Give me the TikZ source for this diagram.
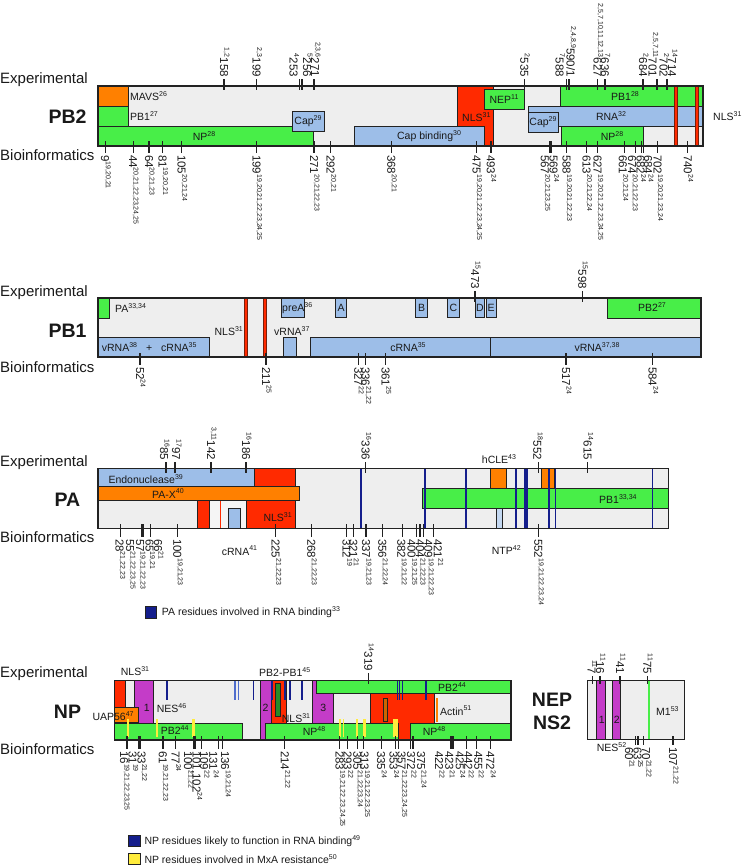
\documentclass[tikz,border=0pt]{standalone}
\usepackage{fontspec}
\setmainfont{Liberation Sans}
\usepackage{tikz}
\usetikzlibrary{positioning}
\usepackage{xcolor}

\definecolor{boxgrey}{RGB}{238,238,238}
\definecolor{outline}{RGB}{34,34,34}
\definecolor{domorange}{RGB}{255,128,0}
\definecolor{domgreen}{RGB}{72,238,72}
\definecolor{domred}{RGB}{255,42,0}
\definecolor{domblue}{RGB}{157,190,232}
\definecolor{dommagenta}{RGB}{196,60,200}
\definecolor{nlsdark}{RGB}{120,30,10}
\definecolor{rnanavy}{RGB}{20,30,140}
\definecolor{rnablue}{RGB}{80,110,205}
\definecolor{mxayellow}{RGB}{255,236,60}
\definecolor{darkgreen}{RGB}{40,140,40}

\newcommand{\refs}[1]{\raisebox{0.75ex}{\fontsize{7}{7}\selectfont #1}}

\begin{document}
\begin{tikzpicture}[
    x=1pt, y=-1pt,
    every node/.style={text=black!90},
    rowlabel/.style={anchor=west, inner sep=0pt, font=\fontsize{15}{15}\selectfont},
    protname/.style={inner sep=0pt, font=\fontsize{19.5}{20}\selectfont\bfseries},
    dom/.style={draw=outline, line width=0.9pt},
    boxline/.style={draw=outline, line width=1.3pt},
    domtext/.style={inner sep=0pt, font=\fontsize{10.5}{11}\selectfont},
    legtext/.style={domtext, anchor=west},
    resmark/.style={draw=outline, line width=1.2pt},
    toplab/.style={rotate=-90, anchor=base east, inner sep=1pt, font=\fontsize{11.5}{12}\selectfont},
    botlab/.style={rotate=-90, anchor=base west, inner sep=1pt, font=\fontsize{11.5}{12}\selectfont},
    nlsbar/.style={fill=domred, draw=nlsdark, line width=0.7pt},
    rnaline/.style={draw=rnanavy, line width=1.6pt},
]
    \fill[white] (0,0) rectangle (742,865);
    \useasboundingbox (0,0) rectangle (742,865);

    % PB2
    \node[rowlabel] (pbtwoExp) at (0,80) {Experimental};
    \node[protname] (pbtwoName) at (67.5,117) {PB2};
    \node[rowlabel] (pbtwoBio) at (0,155) {Bioinformatics};

    \fill[boxgrey] (98,86) rectangle (703,146);
    \draw[dom, fill=domorange] (98,86) rectangle (128,106);
    \draw[dom, fill=domgreen] (98,106) rectangle (128,126);
    \draw[dom, fill=domgreen] (98,126) rectangle (313,146);
    \draw[dom, fill=domblue] (292,111) rectangle (324,131);
    \draw[dom, fill=domred] (457,86) rectangle (493,146);
    \draw[dom, fill=domblue] (354,126) rectangle (484,146);
    \draw[dom, fill=domgreen] (484,89) rectangle (524,109);
    \draw[dom, fill=domgreen] (560,86) rectangle (703,106);
    \draw[dom, fill=domblue] (528,106) rectangle (703,126);
    \draw[dom, fill=domblue] (528,112) rectangle (558,132);
    \draw[dom, fill=domgreen] (561,126) rectangle (643,146);
    \draw[nlsbar] (674,86) rectangle (677,146);
    \draw[nlsbar] (695,86) rectangle (698,146);
    \draw[boxline] (98,86) rectangle (703,146);

    \node[domtext, anchor=west] (mavs) at (130,96) {MAVS\refs{26}};
    \node[domtext, anchor=west] (pbtwoPBa) at (130,116) {PB1\refs{27}};
    \node[domtext] (pbtwoNPa) at (204,136) {NP\refs{28}};
    \node[domtext] (pbtwoCapa) at (308,121) {Cap\refs{29}};
    \node[domtext] (capbind) at (429,136) {Cap binding\refs{30}};
    \node[domtext, anchor=west] (pbtwoNLSa) at (462,117) {NLS\refs{31}};
    \node[domtext] (pbtwoNEP) at (504,99) {NEP\refs{11}};
    \node[domtext] (pbtwoPBb) at (625,96) {PB1\refs{28}};
    \node[domtext] (pbtwoRNA) at (611,116) {RNA\refs{32}};
    \node[domtext] (pbtwoCapb) at (543,122) {Cap\refs{29}};
    \node[domtext] (pbtwoNPb) at (612,136) {NP\refs{28}};
    \node[domtext, anchor=west] (pbtwoNLSb) at (713,116) {NLS\refs{31}};

    \foreach \x/\n/\s/\d [count=\i] in {224/158/{1,2}/0, 256.6/199/{2,3}/0,
        299.6/253/4/-6, 302/256/5/5, 314/271/{2,3,6}/1, 524.4/535/2/0,
        566.6/588/7/-7, 568.5/{590/1}/{2,4,8,9}/2, 597.7/627/{2,5,7,10,11,12,13}/0,
        604.9/636/7/0, 643/684/2/0, 656.7/701/{2,5,7,11}/-4, 657.5/702/2/6,
        667/714/14/5} {
        \draw[resmark] (\x,79) -- (\x,90);
        \node[toplab] (pbtwoT\i) at ({\x-4+(\d)},78) {\refs{\s}\n};
    }
    \draw[resmark] (569.6,79) -- (569.6,90);

    \foreach \x/\n/\s/\d [count=\i] in {105.2/9/{19,20,21}/0, 133.1/44/{20,21,22,23,24,25}/0,
        149/64/{20,21,23}/0, 162.6/81/{19,20,21}/0, 181.7/105/{20,21,24}/0,
        256.6/199/{19,20,21,22,23,24,25}/0, 314/271/{20,21,22,23}/0, 330.7/292/{20,21}/0,
        391.3/368/{20,21}/0, 476.6/475/{19,20,21,22,23,24,25}/0, 490.9/493/24/0,
        549.9/567/{20,21,23,25}/-5, 551.5/569/24/2, 566.6/588/{19,20,21,22,23}/0,
        586.6/613/{20,21,22,24}/0, 597.7/627/{19,20,21,22,23,24,25}/0,
        624.8/661/{20,21,24}/-2, 635.2/674/{20,21,22,23}/-3, 641.6/682/24/-1,
        643.1/684/24/5, 657.5/702/{19,20,21,23,24}/0, 687.8/740/24/0} {
        \draw[resmark] (\x,141) -- (\x,153);
        \node[botlab] (pbtwoB\i) at ({\x-4+(\d)},154) {\n\refs{\s}};
    }

    % PB1
    \node[rowlabel] (pboneExp) at (0,292.7) {Experimental};
    \node[protname] (pboneName) at (67.5,331) {PB1};
    \node[rowlabel] (pboneBio) at (0,367) {Bioinformatics};

    \fill[boxgrey] (98,298) rectangle (701,357);
    \draw[dom, fill=domgreen] (98,298) rectangle (109,318);
    \draw[nlsbar] (244.3,298) rectangle (247.3,357);
    \draw[nlsbar] (263.3,298) rectangle (266.3,357);
    \draw[dom, fill=domblue] (281,298) rectangle (304,317);
    \draw[dom, fill=domblue] (335.3,298) rectangle (346.7,317);
    \draw[dom, fill=domblue] (415.7,298) rectangle (427.3,317);
    \draw[dom, fill=domblue] (447.3,298) rectangle (459.3,317);
    \draw[dom, fill=domblue] (475.3,298) rectangle (484.3,317);
    \draw[dom, fill=domblue] (486,298) rectangle (496,317);
    \draw[dom, fill=domgreen] (607.7,298) rectangle (701,318);
    \draw[dom, fill=domblue] (283.3,337) rectangle (296.3,357);
    \draw[dom, fill=domblue] (98,337) rectangle (209.3,357);
    \draw[dom, fill=domblue] (310.7,337) rectangle (490.3,357);
    \draw[dom, fill=domblue] (490.3,337) rectangle (701,357);
    \draw[boxline] (98,298) rectangle (701,357);

    \node[domtext, anchor=west] (pbonePA) at (115,308) {PA\refs{33,34}};
    \node[domtext, anchor=east] (pboneNLS) at (243,331) {NLS\refs{31}};
    \node[domtext, anchor=west] (preA) at (282,308) {preA\refs{36}};
    \node[domtext] (motifA) at (341,308) {A};
    \node[domtext] (motifB) at (421.5,308) {B};
    \node[domtext] (motifC) at (453.3,308) {C};
    \node[domtext] (motifD) at (479.8,308) {D};
    \node[domtext] (motifE) at (491,308) {E};
    \node[domtext] (pbonePB) at (652,307) {PB2\refs{27}};
    \node[domtext, anchor=west] (pbonevRNAa) at (274,331) {vRNA\refs{37}};
    \node[domtext, anchor=west] (pbonevc) at (101.7,347) {vRNA\refs{38}\hspace{9pt}+\hspace{9pt}cRNA\refs{35}};
    \node[domtext] (pbonecRNA) at (408,347) {cRNA\refs{35}};
    \node[domtext] (pbonevRNAb) at (597,347) {vRNA\refs{37,38}};

    \foreach \x/\n/\s/\d [count=\i] in {475/473/15/0, 582.3/598/15/0} {
        \draw[resmark] (\x,291) -- (\x,302);
        \node[toplab] (pboneT\i) at ({\x-4+(\d)},290) {\refs{\s}\n};
    }
    \foreach \x/\n/\s/\d [count=\i] in {140/52/24/0, 266/211/25/0, 358.3/327/22/0,
        365.7/336/{21,22}/0, 385.7/361/25/0, 566/517/24/0, 652.7/584/24/0} {
        \draw[resmark] (\x,353) -- (\x,365);
        \node[botlab] (pboneB\i) at ({\x-4+(\d)},366) {\n\refs{\s}};
    }

    % PA
    \node[rowlabel] (paExp) at (0,462.7) {Experimental};
    \node[protname] (paName) at (67.5,500) {PA};
    \node[rowlabel] (paBio) at (0,536.7) {Bioinformatics};

    \fill[boxgrey] (98,468.7) rectangle (668.3,528.3);
    \draw[dom, fill=domblue] (98,468.7) rectangle (254.3,486);
    \draw[dom, fill=domred] (254.3,468.7) rectangle (295.7,500);
    \draw[dom, fill=domred] (246.7,500) rectangle (295.7,528.3);
    \draw[dom, fill=domred] (197.3,500) rectangle (209.3,528.3);
    \draw[dom, fill=white!96!black] (209.3,500) rectangle (246.7,528.3);
    \fill[domred] (219.5,500) rectangle (221,528.3);
    \draw[dom, fill=domblue] (228,508.3) rectangle (240.7,528.3);
    \draw[dom, fill=domorange] (98,486) rectangle (299.7,500);
    \draw[dom, fill=domgreen] (422.3,488.3) rectangle (668.3,508.3);
    \draw[dom, fill=domorange] (490.7,468.7) rectangle (506.7,488.3);
    \draw[dom, fill=domorange] (541.7,468.7) rectangle (554.3,488.3);
    \draw[dom, fill=domblue!60] (496,508.3) rectangle (502.3,528.3);
    \foreach \x in {360.7, 425, 465.7, 515.7, 525, 526.7, 549, 555.3, 652.3}
        \draw[rnaline] (\x,468.7) -- (\x,528.3);
    \draw[boxline] (98,468.7) rectangle (668.3,528.3);

    \node[domtext, anchor=west] (endo) at (108.3,479.3) {Endonuclease\refs{39}};
    \node[domtext] (pax) at (168,493.5) {PA-X\refs{40}};
    \node[domtext, anchor=west] (paNLS) at (263.3,517.3) {NLS\refs{31}};
    \node[domtext, anchor=west] (paPB) at (599,499) {PB1\refs{33,34}};
    \node[domtext] (hcle) at (499,459.3) {hCLE\refs{43}};
    \node[domtext, anchor=west] (pacRNA) at (221.7,550.7) {cRNA\refs{41}};
    \node[domtext, anchor=west] (ntp) at (491.7,550) {NTP\refs{42}};

    \foreach \x/\n/\s/\d [count=\i] in {166/85/16/-2, 175/97/17/1, 211/142/{3,11}/0,
        246/186/16/0, 365.7/336/16/0, 538.3/552/18/-1, 587.7/615/14/0} {
        \draw[resmark] (\x,462) -- (\x,473);
        \node[toplab] (paT\i) at ({\x-4+(\d)},461) {\refs{\s}\n};
    }
    \foreach \x/\n/\s/\d [count=\i] in {120.7/28/{21,22,23}/-1, 142/55/{21,22,23,25}/-12,
        143.5/57/{19,21,22,23}/-3.5, 150.5/65/{19,21}/-1, 150.5/66/21/7.5,
        177.3/100/{19,21,23}/0, 275.7/225/{21,22,23}/0, 311.3/268/{21,22,23}/0,
        346.7/312/19/0, 353.3/321/21/0, 366/337/{19,21,23}/0, 382.3/356/{21,22,24}/0,
        402.3/382/{19,21,22}/-1, 416.7/400/{19,21,25}/-5, 420/404/{21,22,23}/0,
        423.3/409/{19,21,22,23}/5, 433.3/421/21/4.5, 538.3/552/{19,21,22,23,24}/0} {
        \draw[resmark] (\x,524) -- (\x,537);
        \node[botlab] (paB\i) at ({\x-4+(\d)},538) {\n\refs{\s}};
    }

    \draw[dom, fill=rnanavy] (145,606.7) rectangle (156.7,618.3);
    \node[legtext] (paLeg) at (161.7,612.5) {PA residues involved in RNA binding\refs{33}};

    % NP
    \node[rowlabel] (npExp) at (0,674) {Experimental};
    \node[protname] (npName) at (67.5,711.7) {NP};
    \node[rowlabel] (npBio) at (0,749) {Bioinformatics};

    \fill[boxgrey] (114.3,680.7) rectangle (511,740);
    \draw[dom, fill=domred] (114.3,680.7) rectangle (125,723.3);
    \draw[dom, fill=dommagenta] (134,680.7) rectangle (153.3,723.3);
    \draw[dom, fill=domorange] (114.3,707.7) rectangle (138.3,722.7);
    \draw[dom, fill=domgreen] (114.3,723.3) rectangle (242.3,740);
    \fill[mxayellow] (127,719) rectangle (128.5,737);
    \fill[mxayellow] (156,719) rectangle (157.5,737);
    \fill[mxayellow] (192,719) rectangle (195,737);
    \draw[rnaline] (166.7,680.7) -- (166.7,700);
    \draw[rnaline, draw=rnablue] (235,680.7) -- (235,700);
    \draw[rnaline, draw=rnablue] (238.3,680.7) -- (238.3,700);
    \draw[rnaline] (253.3,680.7) -- (253.3,700);
    \draw[dom, fill=dommagenta] (260,680.7) rectangle (271.7,740);
    \draw[dom, fill=domred] (271.7,680.7) rectangle (286.7,723.3);
    \draw[dom, fill=darkgreen] (275.7,683) rectangle (280.7,716.7);
    \draw[dom, fill=dommagenta] (312.3,680.7) rectangle (333.3,723.3);
    \draw[dom, fill=domred] (370,693.3) rectangle (434,740);
    \draw[dom, fill=domorange!80!black] (383.3,698.3) rectangle (387.3,721.7);
    \draw[dom, fill=domgreen] (316.7,680.7) rectangle (511,693.3);
    \draw[dom, fill=domgreen] (265.7,723.3) rectangle (398,740);
    \draw[dom, fill=domgreen] (410,723.3) rectangle (511,740);
    \foreach \a/\b in {339.3/340.8, 342.6/344.1, 356/357.5, 363.3/366, 393.3/398.3}
        \fill[mxayellow] (\a,719) rectangle (\b,737);
    \foreach \x in {271.7, 285, 290, 301.7, 397.3, 399.3, 402.3, 425.7}
        \draw[rnaline] (\x,680.7) -- (\x,700);
    \draw[domorange, line width=2pt] (436.7,698) -- (436.7,721.7);
    \draw[boxline] (114.3,680.7) rectangle (511,740);

    \node[domtext, anchor=west] (npNLSa) at (120.7,670.7) {NLS\refs{31}};
    \node[domtext] (npOne) at (146.7,708.3) {1};
    \node[domtext, anchor=west] (uap) at (92.3,716.2) {UAP56\refs{47}};
    \node[domtext, anchor=west] (npNES) at (156.7,708.3) {NES\refs{46}};
    \node[domtext] (npPBa) at (174.7,730.5) {PB2\refs{44}};
    \node[domtext] (npTwo) at (265.5,708.3) {2};
    \node[domtext, anchor=west] (pbpb) at (259,672.3) {PB2-PB1\refs{45}};
    \node[domtext, anchor=west] (npNLSb) at (281.7,717.7) {NLS\refs{31}};
    \node[domtext] (npThree) at (323.3,708.3) {3};
    \node[domtext] (npPBb) at (452,686.7) {PB2\refs{44}};
    \node[domtext, anchor=west] (npNPa) at (302.7,731) {NP\refs{48}};
    \node[domtext, anchor=west] (npNPb) at (422.7,731) {NP\refs{48}};
    \node[domtext, anchor=west] (actin) at (440,710.7) {Actin\refs{51}};

    \draw[resmark] (368.3,673) -- (368.3,684);
    \node[toplab] (npT1) at (364.3,672) {\refs{14}319};
    \foreach \x/\n/\s/\d [count=\i] in {127/16/{19,21,22,23,25}/-3, 139/31/19/-6.3,
        140.6/33/{21,22}/1, 162.9/61/{19,21,22,23}/0, 175.6/77/24/0, 194/100/{21,22}/-6,
        195.2/{101,102}/24/1.5, 201.1/109/22/3, 218.7/131/24/-5.4, 222.6/136/{19,21,24}/2.6,
        284.8/214/{21,22}/0, 339.7/283/{19,21,22,23,24,25}/0, 347.7/293/22/0,
        357.3/305/{21,22,23,24}/0, 363.6/313/{19,21,22,23,25}/1, 381.2/335/24/0,
        395.5/353/24/-2, 398.7/357/{21,22,23,24,25}/3, 410.6/372/22/0.5,
        413/375/{21,24}/8, 450.5/422/22/-11.5, 451.3/423/21/-2, 452.9/425/24/7,
        466.4/442/22/2, 476.8/455/22/1.5, 490.3/472/24/0} {
        \draw[resmark] (\x,736) -- (\x,749);
        \node[botlab] (npB\i) at ({\x-4+(\d)},750) {\n\refs{\s}};
    }

    \draw[dom, fill=rnanavy] (128.3,835) rectangle (140,846.7);
    \node[legtext] (npLegA) at (144.3,841) {NP residues likely to function in RNA binding\refs{49}};
    \draw[dom, fill=mxayellow] (128.3,853.3) rectangle (140,864.5);
    \node[legtext] (npLegB) at (144.3,859) {NP residues involved in MxA resistance\refs{50}};

    % NEP / NS2
    \node[protname] (nepName) at (552,700) {NEP};
    \node[protname] (nsName) at (552,722.5) {NS2};

    \fill[boxgrey] (587.7,680.3) rectangle (684.3,739.7);
    \draw[dom, fill=dommagenta] (596.7,680.3) rectangle (605,739.7);
    \draw[dom, fill=dommagenta] (612.7,680.3) rectangle (620,739.7);
    \draw[domgreen, line width=2pt] (649.3,680.3) -- (649.3,739.7);
    \draw[boxline] (587.7,680.3) rectangle (684.3,739.7);

    \node[domtext] (nesOne) at (601.7,720) {1};
    \node[domtext] (nesTwo) at (616.7,720) {2};
    \node[domtext, anchor=west] (mone) at (656,710.7) {M1\refs{53}};
    \node[domtext, anchor=west] (nepNES) at (596.7,747) {NES\refs{52}};

    \foreach \x/\n/\s/\d [count=\i] in {592.7/7/11/-1, 600/16/11/0, 620/41/11/0, 647.3/75/11/0} {
        \draw[resmark] (\x,676) -- (\x,684);
        \node[toplab] (nepT\i) at ({\x-4+(\d)},675) {\refs{\s}\n};
    }
    \foreach \x/\n/\s/\d [count=\i] in {635.6/60/21/-6.6, 638/63/25/-0.5,
        643.5/70/{21,22}/2.5, 673/107/{21,22}/0} {
        \draw[resmark] (\x,736) -- (\x,745);
        \node[botlab] (nepB\i) at ({\x-4+(\d)},746) {\n\refs{\s}};
    }
\end{tikzpicture}
\end{document}
